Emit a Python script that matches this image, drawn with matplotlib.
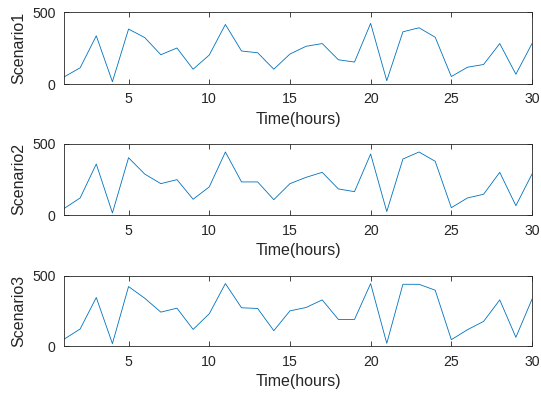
import numpy as np
import matplotlib
matplotlib.use("Agg")
import matplotlib.pyplot as plt

hours = list(range(1, 31))

scenario1 = [49, 113, 336, 16, 383, 324, 204, 251, 103, 202,
             415, 230, 218, 103, 209, 263, 282, 169, 153, 423,
             23, 364, 392, 326, 52, 117, 136, 282, 68, 282]
scenario2 = [47, 121, 358, 16, 402, 288, 221, 249, 112, 198,
             442, 233, 233, 109, 221, 265, 300, 184, 165, 428,
             26, 393, 442, 377, 53, 121, 147, 300, 67, 288]
scenario3 = [50, 123, 347, 19, 425, 342, 243, 271, 120, 231,
             446, 274, 269, 111, 252, 276, 330, 191, 191, 446,
             21, 441, 441, 399, 47, 118, 177, 330, 64, 335]

series = [scenario1, scenario2, scenario3]
ylabels = ["Scenario1", "Scenario2", "Scenario3"]
xticks = [5, 10, 15, 20, 25, 30]
yticks = [0, 500]

plt.rcParams["font.family"] = ["Liberation Sans", "DejaVu Sans"]
grey = "#262626"

fig = plt.figure(figsize=(5.41, 3.94), dpi=100)
# axes rectangles: left, bottom, width, height
rects = [
    [0.1183, 0.7868, 0.8651, 0.1820],
    [0.1183, 0.4536, 0.8651, 0.1817],
    [0.1183, 0.1211, 0.8651, 0.1784],
]

for rect, vals, lab in zip(rects, series, ylabels):
    ax = fig.add_axes(rect)
    ax.plot(hours, vals, color="#0072BD", linewidth=0.6)
    ax.set_xlim(1, 30)
    ax.set_ylim(0, 500)
    ax.set_xticks(xticks)
    ax.set_yticks(yticks)
    ax.tick_params(direction="in", length=3.5, width=0.6, colors=grey,
                   labelsize=10.2, top=True, right=True, pad=6)
    for s in ax.spines.values():
        s.set_color(grey)
        s.set_linewidth(0.6)
    ax.set_xlabel("Time(hours)", fontsize=11.5, color=grey, labelpad=4)
    ax.set_ylabel(lab, fontsize=11.5, color=grey, labelpad=4)

fig.savefig("out.png", dpi=100)
